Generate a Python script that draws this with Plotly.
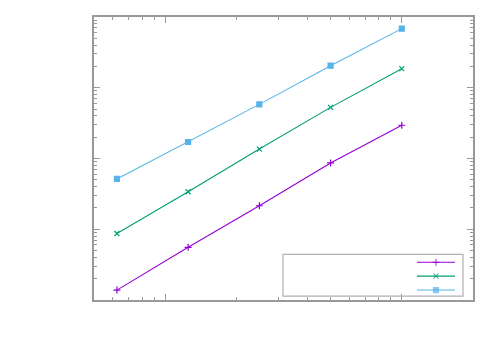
"""
Log-log plot of three scaling series, gnuplot style, no text labels.
"""

import plotly.graph_objects as go

# data
sizes = [62.5, 125, 250, 500, 1000]
series_a = [0.0138, 0.0555, 0.215, 0.865, 2.95]
series_b = [0.0871, 0.339, 1.36, 5.28, 18.6]
series_c = [0.515, 1.71, 5.82, 20.5, 68.5]

names = ["a", "b", "c"]
colors = ["#9400d3", "#009e73", "#56b4e9"]
symbols = ["cross-thin", "x-thin", "square"]

fig = go.Figure()

for vals, col, sym, nm in zip([series_a, series_b, series_c], colors, symbols, names):
    fig.add_trace(go.Scatter(
        x=sizes, y=vals, name=nm, mode="lines+markers",
        line={"color": col, "width": 1.1},
        marker={"symbol": sym, "size": 5, "color": col,
                "line": {"color": col, "width": 1.2}},
        showlegend=False,
    ))

# legend drawn by hand (samples on the right, no text)
leg_y = [0.1333, 0.0842, 0.0351]
for yy, col, sym in zip(leg_y, colors, symbols):
    fig.add_trace(go.Scatter(
        x=[0.852, 0.9024, 0.9525], y=[yy, yy, yy],
        xaxis="x2", yaxis="y2", mode="lines+markers",
        line={"color": col, "width": 1.1},
        marker={"symbol": sym, "size": [0, 5, 0], "color": col,
                "line": {"color": col, "width": 1.2}},
        showlegend=False, hoverinfo="skip",
    ))

fig.add_shape(type="rect", xref="paper", yref="paper",
              x0=0.4987, x1=0.9736, y0=0.014, y1=0.161,
              line={"color": "#b0b0b0", "width": 1.2})

axis_common = {
    "type": "log",
    "showgrid": False,
    "zeroline": False,
    "showline": True,
    "linecolor": "#999999",
    "linewidth": 1.5,
    "mirror": "ticks",
    "ticks": "inside",
    "ticklen": 6,
    "tickcolor": "#999999",
    "showticklabels": False,
    "dtick": 1,
    "minor": {"ticks": "inside", "ticklen": 3, "tickcolor": "#999999",
              "dtick": "D1", "showgrid": False},
}

# page has an 8px body margin, so margins are shifted to compensate
fig.update_layout(
    width=500, height=350,
    margin={"l": 86, "r": 35, "t": 7, "b": 58},
    paper_bgcolor="white", plot_bgcolor="white",
    showlegend=False,
    xaxis={**axis_common, "range": [1.69897, 3.30103]},
    yaxis={**axis_common, "range": [-2, 2]},
    xaxis2={"overlaying": "x", "range": [0, 1], "visible": False},
    yaxis2={"overlaying": "y", "range": [0, 1], "visible": False},
)

fig.write_html("out.html")
